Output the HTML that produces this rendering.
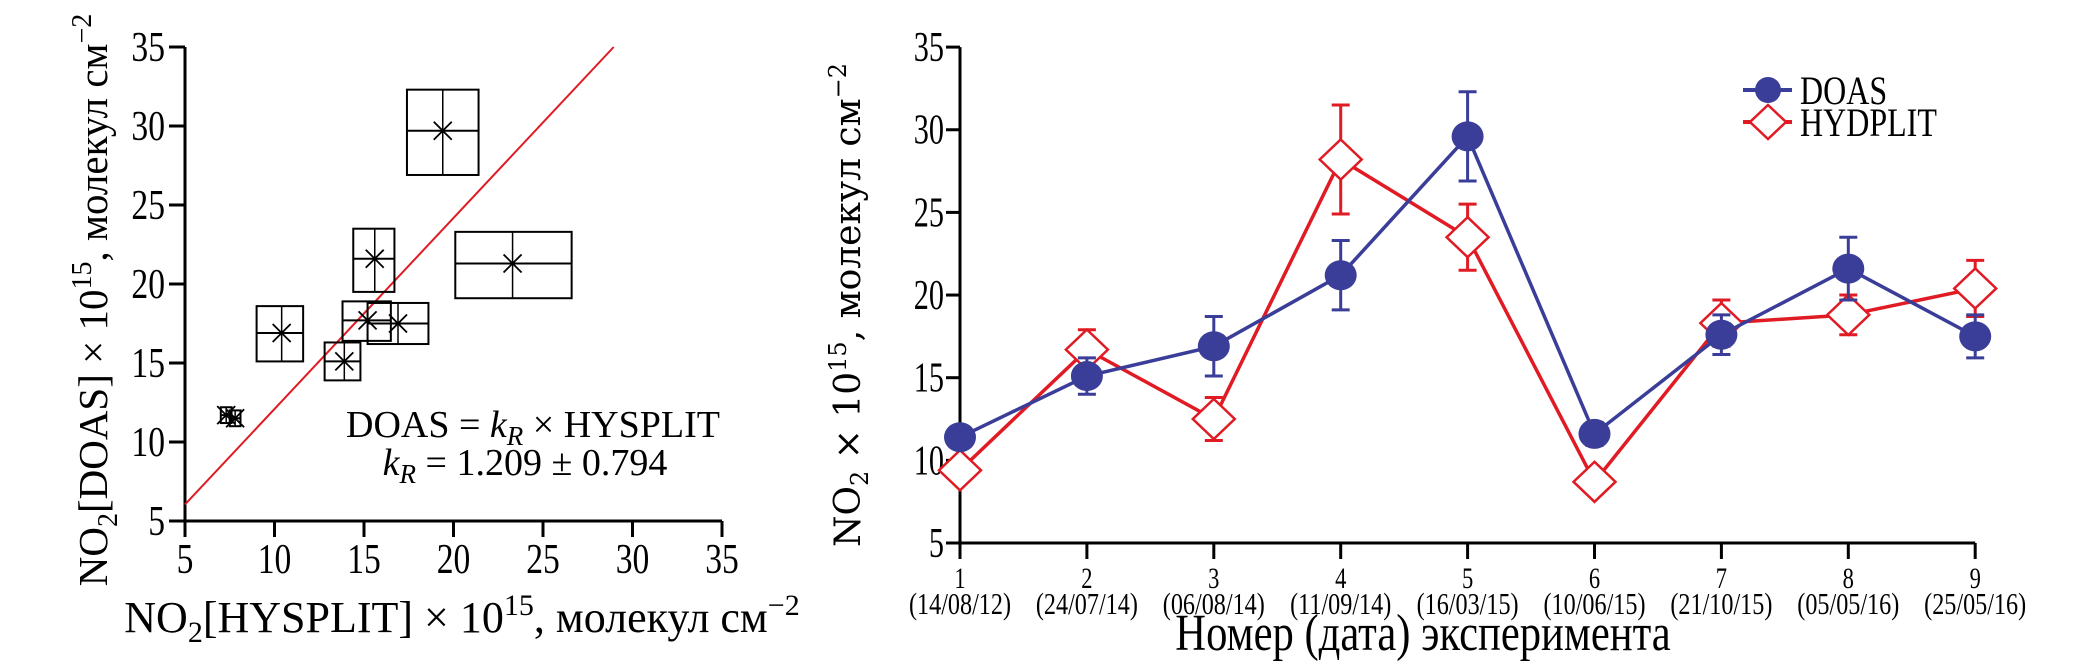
<!DOCTYPE html>
<html><head><meta charset="utf-8"><style>
html,body{margin:0;padding:0;background:#fff;}
svg{display:block;font-family:"Liberation Serif",serif;}
</style></head><body>
<svg id="chart" width="2079" height="665" viewBox="0 0 2079 665" xmlns="http://www.w3.org/2000/svg">
<g id="left"></g>
<g id="right"></g>
</svg>
<script>
// ---- Left scatter data ----
const scX = [19.4, 23.3, 15.6, 10.4, 13.9, 15.2, 16.9, 7.3, 7.8];
const scY = [29.7, 21.3, 21.6, 16.9, 15.1, 17.7, 17.5, 11.7, 11.5];
const scXlo = [17.4, 20.1, 14.4, 9.0, 12.8, 13.8, 15.2, 7.0, 7.5];
const scXhi = [21.4, 26.6, 16.7, 11.6, 14.8, 16.5, 18.6, 7.6, 8.1];
const scYlo = [26.9, 19.1, 19.5, 15.1, 13.9, 16.4, 16.2, 11.2, 11.0];
const scYhi = [32.3, 23.3, 23.5, 18.6, 16.3, 18.9, 18.8, 12.2, 12.0];
const scTicks = [5, 10, 15, 20, 25, 30, 35];
const fitK = [1.209];
// ---- Right line chart data ----
const expNums = ["1","2","3","4","5","6","7","8","9"];
const expDates = ["(14/08/12)","(24/07/14)","(06/08/14)","(11/09/14)","(16/03/15)","(10/06/15)","(21/10/15)","(05/05/16)","(25/05/16)"];
const doasVals = [11.4, 15.1, 16.9, 21.2, 29.6, 11.6, 17.6, 21.6, 17.5];
const doasErr = [0.6, 1.1, 1.8, 2.1, 2.7, 0.7, 1.2, 1.9, 1.3];
const hysVals = [9.4, 16.7, 12.5, 28.2, 23.5, 8.7, 18.3, 18.8, 20.4];
const hysErr = [0.5, 1.2, 1.3, 3.3, 2.0, 0.5, 1.4, 1.2, 1.7];
const rTicks = [5, 10, 15, 20, 25, 30, 35];

const NS = "http://www.w3.org/2000/svg";
function mk(parent, tag, attrs, text){
  const e = document.createElementNS(NS, tag);
  for (const k in attrs) e.setAttribute(k, attrs[k]);
  if (text !== undefined) e.textContent = text;
  parent.appendChild(e);
  return e;
}
const L = document.getElementById('left');
const R = document.getElementById('right');

const lx = v => 185 + (v - 5) * 17.9;
const ly = v => 521 - (v - 5) * 15.8;
let e;
e = mk(L, 'line', {x1:lx(5), y1:ly(5), x2:lx(35), y2:ly(5), stroke:'#000','stroke-width':3});


e = mk(L, 'line', {x1:lx(5), y1:ly(5)+1, x2:lx(5), y2:ly(35), stroke:'#000','stroke-width':3});


scTicks.forEach(t => {
  e = mk(L, 'line', {x1:lx(t), y1:ly(5), x2:lx(t), y2:ly(5)+16, stroke:'#000','stroke-width':3});
  
  
  e = mk(L, 'text', {x:lx(t), y:ly(5)+52, 'font-size':42, 'text-anchor':'middle', transform:`translate(${lx(t)},0) scale(0.8,1) translate(${-lx(t)},0)`}, t);
  
  
  e = mk(L, 'line', {x1:lx(5)-16, y1:ly(t), x2:lx(5), y2:ly(t), stroke:'#000','stroke-width':3});
  
  
  e = mk(L, 'text', {x:lx(5)-20, y:ly(t)+14, 'font-size':42, 'text-anchor':'end', transform:`translate(${lx(5)-20},0) scale(0.8,1) translate(${-(lx(5)-20)},0)`}, t);
  
  
});
e = mk(L, 'line', {x1:lx(5), y1:ly(5*fitK[0]), x2:lx(35/fitK[0]), y2:ly(35), stroke:'#e01b24','stroke-width':2});


scX.forEach((v,i) => {
  const g = mk(L, 'g', {});
  
  
  mk(g, 'rect', {x:lx(scXlo[i]), y:ly(scYhi[i]), width:lx(scXhi[i])-lx(scXlo[i]), height:ly(scYlo[i])-ly(scYhi[i]), fill:'none', stroke:'#000','stroke-width':2});
  mk(g, 'line', {x1:lx(scXlo[i]), y1:ly(scY[i]), x2:lx(scXhi[i]), y2:ly(scY[i]), stroke:'#000','stroke-width':2});
  mk(g, 'line', {x1:lx(v), y1:ly(scYhi[i]), x2:lx(v), y2:ly(scYlo[i]), stroke:'#000','stroke-width':1.5});
  const s = 9;
  mk(g, 'path', {d:`M${lx(v)-s},${ly(scY[i])-s}L${lx(v)+s},${ly(scY[i])+s}M${lx(v)-s},${ly(scY[i])+s}L${lx(v)+s},${ly(scY[i])-s}`, stroke:'#000','stroke-width':1.8});
});
</script>
<svg style="position:absolute;left:0;top:0" width="2079" height="665" xmlns="http://www.w3.org/2000/svg">
<text x="533" y="437" font-size="38" text-anchor="middle" font-family="Liberation Serif, serif">DOAS = <tspan font-style="italic">k<tspan font-size="27" dy="8">R</tspan></tspan><tspan dy="-8"> × HYSPLIT</tspan></text>
<text x="525" y="475" font-size="38" text-anchor="middle" font-family="Liberation Serif, serif"><tspan font-style="italic">k<tspan font-size="27" dy="8">R</tspan></tspan><tspan dy="-8"> = 1.209 ± 0.794</tspan></text>
<text transform="translate(107,300) rotate(-90)" font-size="41" text-anchor="middle" font-family="Liberation Serif, serif">NO<tspan font-size="28" dy="10">2</tspan><tspan dy="-10">[DOAS] × 10</tspan><tspan font-size="28" dy="-16">15</tspan><tspan dy="16">, молекул см</tspan><tspan font-size="28" dy="-16">−2</tspan></text>
<text x="462" y="632" font-size="44" text-anchor="middle" font-family="Liberation Serif, serif">NO<tspan font-size="30" dy="10">2</tspan><tspan dy="-10">[HYSPLIT] × 10</tspan><tspan font-size="30" dy="-17">15</tspan><tspan dy="17">, молекул см</tspan><tspan font-size="30" dy="-17">−2</tspan></text>
<text transform="translate(860,305) rotate(-90)" font-size="36" text-anchor="middle" font-family="DejaVu Serif, serif">NO<tspan font-size="24" dy="8">2</tspan><tspan dy="-8"> × 10</tspan><tspan font-size="24" dy="-14">15</tspan><tspan dy="14">, молекул см</tspan><tspan font-size="24" dy="-14">−2</tspan></text>
<text x="1423" y="650" font-size="52" text-anchor="middle" font-family="Liberation Serif, serif" transform="translate(1423,0) scale(0.82,1) translate(-1423,0)">Номер (дата) эксперимента</text>
</svg>
<script>
const rx = i => 960 + i * 126.9;
const ry = v => 543 - (v - 5) * 16.53;
const blue = '#3a3e98', red = '#e01b24';
let f;
f = mk(R, 'line', {x1:rx(0), y1:ry(5), x2:rx(8), y2:ry(5), stroke:'#000','stroke-width':3});


f = mk(R, 'line', {x1:rx(0), y1:ry(5)+1, x2:rx(0), y2:ry(35), stroke:'#000','stroke-width':3});


rTicks.forEach(t => {
  f = mk(R, 'line', {x1:rx(0)-14, y1:ry(t), x2:rx(0), y2:ry(t), stroke:'#000','stroke-width':3});
  
  
  f = mk(R, 'text', {x:rx(0)-16, y:ry(t)+14, 'font-size':42, 'text-anchor':'end', transform:`translate(${rx(0)-16},0) scale(0.72,1) translate(${-(rx(0)-16)},0)`}, t);
  
  
});
expNums.forEach((n,i) => {
  f = mk(R, 'line', {x1:rx(i), y1:ry(5), x2:rx(i), y2:ry(5)+16, stroke:'#000','stroke-width':3});
  
  
  f = mk(R, 'text', {x:rx(i), y:588, 'font-size':30, 'text-anchor':'middle', transform:`translate(${rx(i)},0) scale(0.75,1) translate(${-rx(i)},0)`}, n);
  
  
  f = mk(R, 'text', {x:rx(i), y:614, 'font-size':31, 'text-anchor':'middle', transform:`translate(${rx(i)},0) scale(0.78,1) translate(${-rx(i)},0)`}, expDates[i]);
  
  
});
function series(vals, errs, color, name){
  const g = mk(R, 'g', {});
  
  
  vals.forEach((v,i) => {
    const el = mk(g, 'path', {d:`M${rx(i)-9},${ry(v+errs[i])}H${rx(i)+9}M${rx(i)},${ry(v+errs[i])}V${ry(v-errs[i])}M${rx(i)-9},${ry(v-errs[i])}H${rx(i)+9}`, stroke:color,'stroke-width':3, fill:'none'});
    
    
  });
  const line = mk(g, 'polyline', {points: vals.map((v,i)=>`${rx(i)},${ry(v)}`).join(' '), fill:'none', stroke:color,'stroke-width':3.5});
  
  
  return g;
}
const gH = series(hysVals, hysErr, red, 'hysplit');
const gD = series(doasVals, doasErr, blue, 'doas');
doasVals.forEach((v,i) => {
  const c = mk(gD, 'ellipse', {cx:rx(i), cy:ry(v), rx:16, ry:15, fill:blue});
  
  
});
hysVals.forEach((v,i) => {
  const d = mk(gH, 'path', {d:`M${rx(i)},${ry(v)-20}L${rx(i)+21},${ry(v)}L${rx(i)},${ry(v)+20}L${rx(i)-21},${ry(v)}Z`, fill:'#fff', stroke:red,'stroke-width':2.5});
  
  
});
const lg = mk(R, 'g', {});


const l1 = mk(lg, 'g', {});


mk(l1, 'line', {x1:1743, y1:90, x2:1792, y2:90, stroke:blue,'stroke-width':4});
mk(l1, 'ellipse', {cx:1768, cy:90, rx:13, ry:13, fill:blue});
mk(l1, 'text', {x:1800, y:104, 'font-size':40, transform:'translate(1800,0) scale(0.8,1) translate(-1800,0)'}, 'DOAS');
const l2 = mk(lg, 'g', {});


mk(l2, 'line', {x1:1743, y1:122, x2:1792, y2:122, stroke:red,'stroke-width':4});
mk(l2, 'path', {d:'M1768,105L1786,122L1768,139L1750,122Z', fill:'#fff', stroke:red,'stroke-width':2.5});
mk(l2, 'text', {x:1800, y:136, 'font-size':40, transform:'translate(1800,0) scale(0.8,1) translate(-1800,0)'}, 'HYDPLIT');
</script>
</body></html>
